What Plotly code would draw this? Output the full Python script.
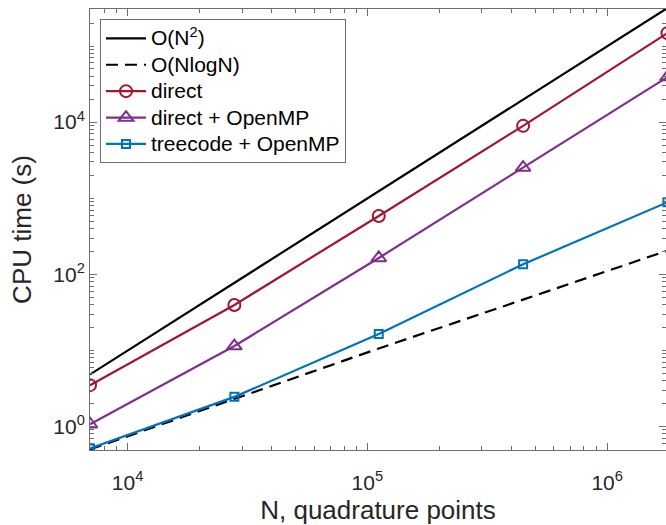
import plotly.graph_objects as go

# Data
N = [6970, 27880, 111520, 446080, 1784320]
ref_n2 = [4.83, 77.3, 1237, 19790, 316600]
ref_nlogn = [0.50, 2.32, 10.6, 46.5, 205]
direct = [3.49, 39.5, 585, 8940, 148000]
direct_omp = [1.07, 11.4, 164, 2530, 39100]
tree_omp = [0.514, 2.45, 16.4, 135.5, 886]

names = ["O(N<sup>2</sup>)", "O(NlogN)", "direct", "direct + OpenMP", "treecode + OpenMP"]

x_tickvals = [1e4, 1e5, 1e6]
x_ticktext = ["10<sup>4</sup>", "10<sup>5</sup>", "10<sup>6</sup>"]
y_tickvals = [1, 100, 1e4]
y_ticktext = ["10<sup>0</sup>", "10<sup>2</sup>", "10<sup>4</sup>"]

RED = "#A2142F"
PURPLE = "#7E2F8E"
BLUE = "#0072BD"
AXC = "#6e6e6e"
TXT = "#262626"
FONT = "Liberation Sans, Arial, Helvetica, sans-serif"


def lg(t):
    return '<span style="font-size:21px">' + t + "</span>"


fig = go.Figure()
fig.add_trace(go.Scatter(x=N, y=ref_n2, mode="lines", name=lg(names[0]),
                         line=dict(color="black", width=2.2)))
fig.add_trace(go.Scatter(x=N, y=ref_nlogn, mode="lines", name=lg(names[1]),
                         line=dict(color="black", width=2.2, dash="12px,7px")))
fig.add_trace(go.Scatter(x=N, y=direct, mode="lines+markers", name=lg(names[2]),
                         line=dict(color=RED, width=2.2),
                         marker=dict(symbol="circle-open", size=12, color=RED,
                                     line=dict(width=2, color=RED))))
fig.add_trace(go.Scatter(x=N, y=direct_omp, mode="lines+markers", name=lg(names[3]),
                         line=dict(color=PURPLE, width=2.2),
                         marker=dict(symbol="triangle-up-open", size=13, color=PURPLE,
                                     line=dict(width=2, color=PURPLE))))
fig.add_trace(go.Scatter(x=N, y=tree_omp, mode="lines+markers", name=lg(names[4]),
                         line=dict(color=BLUE, width=2.2),
                         marker=dict(symbol="square-open", size=8, color=BLUE,
                                     line=dict(width=2, color=BLUE))))

axis_common = dict(
    type="log", showgrid=False, zeroline=False,
    showline=True, linecolor=AXC, linewidth=1, mirror="ticks",
    ticks="inside", ticklen=7, tickwidth=1, tickcolor=AXC,
    tickfont=dict(family=FONT, size=21, color=TXT),
    minor=dict(ticks="inside", ticklen=4, tickwidth=1, tickcolor=AXC,
               dtick="D1", showgrid=False),
)

fig.update_layout(
    width=666, height=525,
    margin=dict(l=90, r=0, t=9, b=75),
    paper_bgcolor="white", plot_bgcolor="white",
    font=dict(family=FONT, color=TXT),
    xaxis=dict(axis_common, range=[3.8432, 6.2453],
               tickmode="array", tickvals=x_tickvals, ticktext=x_ticktext,
               ticklabelstandoff=14,
               title=dict(text="N, quadrature points",
                          font=dict(family=FONT, size=26, color=TXT), standoff=10)),
    yaxis=dict(axis_common, range=[-0.3092, 5.487],
               tickmode="array", tickvals=y_tickvals, ticktext=y_ticktext,
               title=dict(text="CPU time (s)",
                          font=dict(family=FONT, size=26, color=TXT), standoff=14)),
    legend=dict(x=0.0174, y=0.977, xanchor="left", yanchor="top",
                bgcolor="white", bordercolor=AXC, borderwidth=1,
                font=dict(family=FONT, size=18, color="black"),
                tracegroupgap=0, itemwidth=40),
    showlegend=True,
)

fig.write_html("out.html")
